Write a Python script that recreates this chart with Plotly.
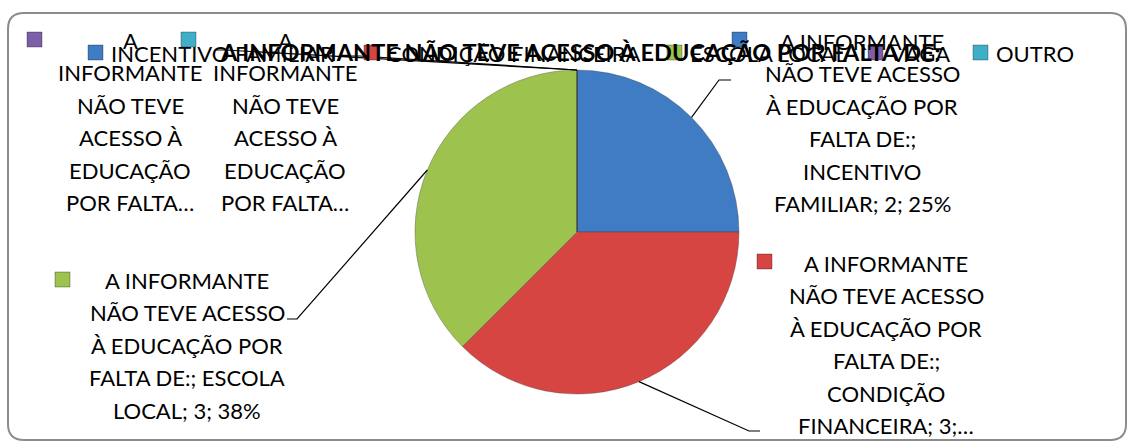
import math
import plotly.graph_objects as go

# ---------------- data ----------------
series_name = "A INFORMANTE NÃO TEVE ACESSO À EDUCAÇÃO POR FALTA DE:"
categories = ["INCENTIVO FAMILIAR", "CONDIÇÃO FINANCEIRA", "ESCOLA LOCAL", "VAGA", "OUTRO"]
values = [2, 3, 3, 0, 0]
colors = ["#3F7CC4", "#D64541", "#9DC34E", "#7D5FA7", "#3FAFC9"]

# data-label text as it is wrapped / truncated in the picture
label_lines = [
    ["A INFORMANTE", "NÃO TEVE ACESSO", "À EDUCAÇÃO POR", "FALTA DE:;", "INCENTIVO", "FAMILIAR; 2; 25%"],
    ["A INFORMANTE", "NÃO TEVE ACESSO", "À EDUCAÇÃO POR", "FALTA DE:;", "CONDIÇÃO", "FINANCEIRA; 3;…"],
    ["A INFORMANTE", "NÃO TEVE ACESSO", "À EDUCAÇÃO POR", "FALTA DE:; ESCOLA", "LOCAL; 3; 38%"],
    ["A", "INFORMANTE", "NÃO TEVE", "ACESSO À", "EDUCAÇÃO", "POR FALTA…"],
    ["A", "INFORMANTE", "NÃO TEVE", "ACESSO À", "EDUCAÇÃO", "POR FALTA…"],
]

# ---------------- layout (pixels) ----------------
W, H = 1134, 441
FONT = "Lato, 'Open Sans', sans-serif"
FS = 22
TITLE_FS = 23.5
CX, CY, R = 577, 232, 162           # pie centre / radius
LINE_H = 32.5

# label block: centre x, first line y, key-square (x0, y0)
label_pos = [
    (862, 41, (732, 32)),
    (886, 263, (757, 254)),
    (187, 280, (55, 272)),
    (130, 40, (27, 32)),
    (285, 40, (181, 32)),
]
# leader line elbow + end for each slice
leader = [
    [(719, 80), (731, 80)],
    [(749, 431), (760, 431)],
    [(297, 319), (287, 319)],
    [(225, 50), (215, 50)],
    [(360, 56), (350, 56)],
]
legend_x = [88, 364, 667, 868, 973]   # legend key squares
LEG_Y = 45
SQ = 15

fig = go.Figure()

fig.add_trace(go.Pie(
    labels=categories, values=values,
    marker=dict(colors=colors, line=dict(color="rgba(60,60,60,0.35)", width=1)),
    sort=False, direction="clockwise", rotation=0,
    textinfo="none", hoverinfo="label+value+percent",
    showlegend=False,
    domain=dict(x=[(CX - R) / W, (CX + R) / W], y=[1 - (CY + R) / H, 1 - (CY - R) / H]),
))

shapes = []
annotations = []

# outer rounded border
r = 16
x0, y0, x1, y1 = 8, 13, 1126, 440
path = (f"M {x0+r},{y0} L {x1-r},{y0} Q {x1},{y0} {x1},{y0+r} L {x1},{y1-r} Q {x1},{y1} {x1-r},{y1} "
        f"L {x0+r},{y1} Q {x0},{y1} {x0},{y1-r} L {x0},{y0+r} Q {x0},{y0} {x0+r},{y0} Z")
shapes.append(dict(type="path", path=path, xref="x", yref="y",
                   line=dict(color="#8C8C8C", width=2), layer="below"))

total = sum(values)
cum = 0.0
for i, v in enumerate(values):
    mid = (cum + v / 2) / total * 2 * math.pi
    cum += v
    ex = CX + R * math.sin(mid)
    ey = CY - R * math.cos(mid)
    (bx, by), (tx, ty) = leader[i]
    shapes.append(dict(type="path", path=f"M {ex},{ey} L {bx},{by} L {tx},{ty}",
                       xref="x", yref="y", line=dict(color="black", width=1.2), layer="above"))

# data labels
for i, lines in enumerate(label_lines):
    cx, fy, (sx, sy) = label_pos[i]
    shapes.append(dict(type="rect", x0=sx, y0=sy, x1=sx + SQ, y1=sy + SQ, xref="x", yref="y",
                       fillcolor=colors[i], line=dict(color="rgba(0,0,0,0.3)", width=1), layer="above"))
    for k, t in enumerate(lines):
        annotations.append(dict(x=cx, y=fy + k * LINE_H, xref="x", yref="y", text=t,
                                showarrow=False, xanchor="center", yanchor="middle",
                                font=dict(family=FONT, size=FS, color="black")))

# legend
for i, c in enumerate(categories):
    lx = legend_x[i]
    shapes.append(dict(type="rect", x0=lx, y0=LEG_Y, x1=lx + SQ, y1=LEG_Y + SQ, xref="x", yref="y",
                       fillcolor=colors[i], line=dict(color="rgba(0,0,0,0.3)", width=1), layer="above"))
    annotations.append(dict(x=lx + SQ + 6, y=LEG_Y + SQ / 2 + 1, xref="x", yref="y", text=c,
                            showarrow=False, xanchor="left", yanchor="middle",
                            font=dict(family=FONT, size=FS, color="black")))

# title (drawn on top of the legend, as in the original)
annotations.append(dict(x=580, y=52, xref="x", yref="y", text=f"<b>{series_name}</b>",
                        showarrow=False, xanchor="center", yanchor="middle",
                        font=dict(family=FONT, size=TITLE_FS, color="black")))

fig.update_layout(
    width=W, height=H,
    margin=dict(l=0, r=0, t=0, b=0),
    paper_bgcolor="white", plot_bgcolor="rgba(0,0,0,0)",
    xaxis=dict(range=[0, W], visible=False, fixedrange=True, domain=[0, 1]),
    yaxis=dict(range=[H, 0], visible=False, fixedrange=True, domain=[0, 1]),
    shapes=shapes, annotations=annotations,
    showlegend=False,
)

fig.write_html("out.html")
